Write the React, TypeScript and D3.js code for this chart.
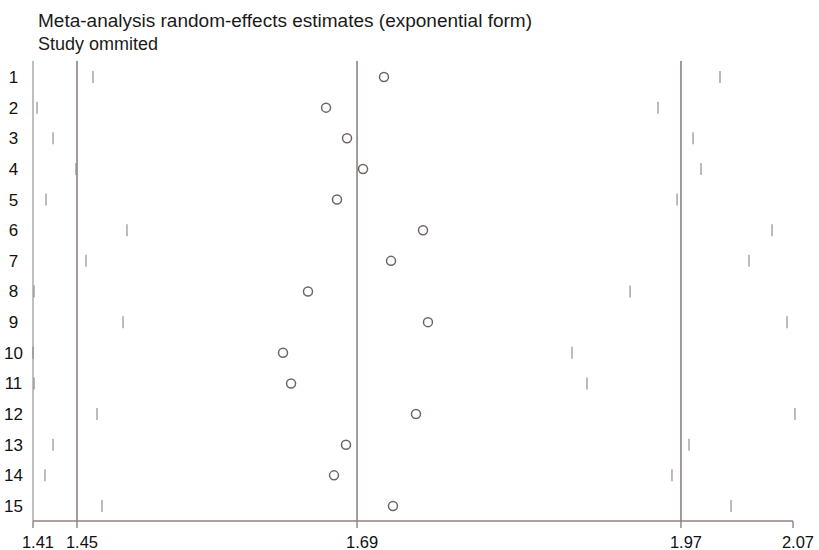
import React from "react";
import * as d3 from "d3";

const titleLines = ["Meta-analysis random-effects estimates (exponential form)", "Study ommited"];
const titleWidths = [494, 120];
const studies = ["1", "2", "3", "4", "5", "6", "7", "8", "9", "10", "11", "12", "13", "14", "15"];
const estimates = [1.7138, 1.6635, 1.6817, 1.6956, 1.673, 1.7477, 1.7199, 1.6478, 1.752, 1.6261, 1.6331, 1.7416, 1.6808, 1.6704, 1.7216];
const lowerCI = [1.4611, 1.4125, 1.4264, 1.4463, 1.4203, 1.4906, 1.455, 1.4099, 1.4872, 1.409, 1.4099, 1.4646, 1.4264, 1.4194, 1.4689];
const upperCI = [2.0056, 1.9518, 1.9822, 1.9891, 1.9683, 2.0508, 2.0308, 1.9275, 2.0638, 1.8771, 1.8901, 2.0707, 1.9787, 1.9639, 2.0152];
const refLines = [1.4472, 1.6904, 1.9717];
const minLine = [1.409];
const tickValues = [1.409, 1.4472, 1.6904, 1.9717, 2.069];

const W = 819;
const H = 550;
const FONT = "'Liberation Sans', Arial, Helvetica, sans-serif";

export default function App() {
  const x = d3.scaleLinear().domain([1.409, 2.069]).range([33, 793]);
  const y = d3.scalePoint<string>().domain(studies).range([77, 506]);
  const axisY = 521;
  const topY = 61;
  const lineColor = "#8c8380";
  const fmt = d3.format(".2f");

  return (
    <svg width={W} height={H} style={{ position: "absolute", left: 0, top: 0, background: "#fff" }}>
      <rect x={0} y={0} width={W} height={H} fill="#fff" />
      {titleLines.map((t, i) => (
        <text
          key={t}
          x={38}
          y={27 + i * 23}
          fontFamily={FONT}
          fontSize={17.5}
          fill="#1a1a1a"
          textLength={titleWidths[i]}
          lengthAdjust="spacingAndGlyphs"
        >
          {t}
        </text>
      ))}
      {minLine.map((v) => (
        <line key={"m" + v} x1={x(v)} x2={x(v)} y1={topY} y2={axisY} stroke="#a39b98" strokeWidth={1.3} />
      ))}
      {refLines.map((v) => (
        <line key={"r" + v} x1={x(v)} x2={x(v)} y1={topY} y2={axisY} stroke={lineColor} strokeWidth={1.6} />
      ))}
      {studies.map((s, i) => (
        <g key={s}>
          <text
            x={13.5}
            y={(y(s) as number) + 1.5}
            textAnchor="middle"
            dominantBaseline="middle"
            fontFamily={FONT}
            fontSize={17}
            fill="#111"
          >
            {s}
          </text>
          <line x1={x(lowerCI[i])} x2={x(lowerCI[i])} y1={(y(s) as number) - 6} y2={(y(s) as number) + 6} stroke="#8f8f8f" strokeWidth={1.2} />
          <line x1={x(upperCI[i])} x2={x(upperCI[i])} y1={(y(s) as number) - 6} y2={(y(s) as number) + 6} stroke="#8f8f8f" strokeWidth={1.2} />
          <circle cx={x(estimates[i])} cy={y(s) as number} r={4.5} fill="none" stroke="#6f6562" strokeWidth={1.5} />
        </g>
      ))}
      <line x1={x.range()[0]} x2={x.range()[1]} y1={axisY} y2={axisY} stroke={lineColor} strokeWidth={1.6} />
      {tickValues.map((v) => (
        <g key={"t" + v}>
          <line x1={x(v)} x2={x(v)} y1={axisY} y2={axisY + 7} stroke={lineColor} strokeWidth={1.4} />
          <text x={x(v) + 5} y={548} textAnchor="middle" fontFamily={FONT} fontSize={16.5} fill="#111">
            {fmt(v)}
          </text>
        </g>
      ))}
    </svg>
  );
}
